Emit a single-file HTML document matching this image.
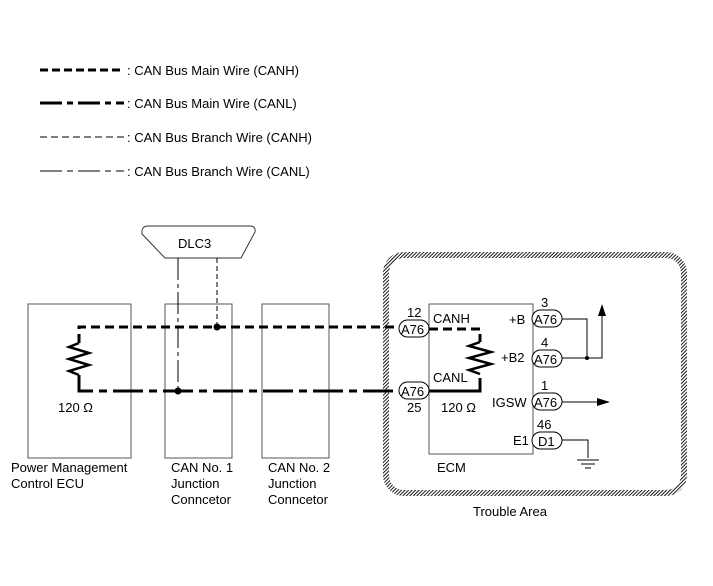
<!DOCTYPE html>
<html><head><style>
body{margin:0;background:#fff}
svg text{font-family:"Liberation Sans",Arial,sans-serif;font-size:13px;fill:#000}
</style></head><body>
<svg width="713" height="581" viewBox="0 0 713 581" xmlns="http://www.w3.org/2000/svg">
<defs>
<pattern id="h" width="2.5" height="2.5" patternUnits="userSpaceOnUse" patternTransform="rotate(45)">
<rect width="2.5" height="2.5" fill="#fff"/><line x1="0" y1="0" x2="0" y2="2.5" stroke="#000" stroke-width="1.8"/>
</pattern>
</defs>
<!-- legend -->
<g stroke="#000" fill="none">
<line x1="40" y1="70" x2="124" y2="70" stroke-width="3" stroke-dasharray="8,4"/>
<line x1="40" y1="103" x2="124" y2="103" stroke-width="3" stroke-dasharray="22,5,6,5"/>
<line x1="40" y1="137" x2="124" y2="137" stroke-width="1" stroke-dasharray="7,4"/>
<line x1="40" y1="171" x2="124" y2="171" stroke-width="1" stroke-dasharray="22,5,6,5"/>
</g>
<text x="127" y="75">: CAN Bus Main Wire (CANH)</text>
<text x="127" y="108">: CAN Bus Main Wire (CANL)</text>
<text x="127" y="142">: CAN Bus Branch Wire (CANH)</text>
<text x="127" y="176">: CAN Bus Branch Wire (CANL)</text>
<!-- trouble area -->
<rect x="386" y="255" width="298" height="238" rx="18" fill="none" stroke="url(#h)" stroke-width="6"/>
<!-- boxes -->
<g fill="none" stroke="#555" stroke-width="1">
<rect x="28" y="304" width="103" height="154"/>
<rect x="165" y="304" width="67" height="154"/>
<rect x="262" y="304" width="67" height="154"/>
<rect x="429" y="304" width="104" height="150"/>
</g>
<!-- DLC3 -->
<path d="M148 226 H250 Q256 226 255 232 L241 258 H165 L142 234 Q141 226 148 226 Z" fill="#fff" stroke="#333"/>
<text x="178" y="248">DLC3</text>
<g stroke="#000" fill="none">
<line x1="178" y1="258" x2="178" y2="391" stroke-width="1" stroke-dasharray="22,4,4,4"/>
<line x1="217" y1="258" x2="217" y2="327" stroke-width="1" stroke-dasharray="5,3"/>
<path d="M79 343 V327 H399" stroke-width="3" stroke-dasharray="9,5"/>
<path d="M79 375 V391 H399" stroke-width="3" stroke-dasharray="30,6,8,6"/>
<path d="M79 343 l-10 4 l20 6 l-20 6 l20 6 l-20 6 l10 4 v0" stroke-width="2.5"/>
<path d="M429 329 H480 V342" stroke-width="3" stroke-dasharray="9,5"/>
<path d="M429 391 H480 V378" stroke-width="3"/>
<path d="M480 342 l-11 4 l22 6 l-22 6 l22 6 l-22 6 l11 4" stroke-width="2.5"/>
<path d="M562 319 H587 V358" stroke-width="1"/>
<path d="M562 358 H602 V312" stroke-width="1"/>
<path d="M562 402 H600" stroke-width="1"/>
<path d="M562 440 H588 V458" stroke-width="1"/>
<line x1="577" y1="460" x2="599" y2="460"/>
<line x1="581" y1="464" x2="595" y2="464"/>
<line x1="585" y1="468" x2="591" y2="468"/>
</g>
<polygon points="602,304 598,316 606,316" fill="#000"/>
<polygon points="610,402 597,398 597,406" fill="#000"/>
<circle cx="217" cy="327" r="3.5"/><circle cx="178" cy="391" r="3.5"/><circle cx="587" cy="358" r="2"/>
<g fill="#fff" stroke="#000" stroke-width="1">
<rect x="399" y="320" width="30" height="17" rx="8.5"/>
<rect x="399" y="382" width="30" height="17" rx="8.5"/>
<rect x="532" y="310" width="30" height="17" rx="8.5"/>
<rect x="532" y="350" width="30" height="17" rx="8.5"/>
<rect x="532" y="393" width="30" height="17" rx="8.5"/>
<rect x="532" y="432" width="30" height="17" rx="8.5"/>
</g>
<text x="401" y="334">A76</text><text x="401" y="396">A76</text>
<text x="534" y="324">A76</text><text x="534" y="364">A76</text>
<text x="534" y="407">A76</text><text x="538" y="446">D1</text>
<text x="407" y="317">12</text><text x="407" y="412">25</text>
<text x="541" y="307">3</text><text x="541" y="347">4</text><text x="541" y="390">1</text><text x="537" y="429">46</text>
<text x="433" y="323">CANH</text><text x="433" y="382">CANL</text><text x="441" y="412">120 Ω</text>
<text x="509" y="324">+B</text><text x="501" y="362">+B2</text><text x="492" y="407">IGSW</text><text x="513" y="445">E1</text>
<text x="58" y="412">120 Ω</text>
<text x="437" y="472">ECM</text>
<text x="11" y="472">Power Management</text><text x="11" y="488">Control ECU</text>
<text x="171" y="472">CAN No. 1</text><text x="171" y="488">Junction</text><text x="171" y="504">Conncetor</text>
<text x="268" y="472">CAN No. 2</text><text x="268" y="488">Junction</text><text x="268" y="504">Conncetor</text>
<text x="473" y="516">Trouble Area</text>
</svg>
</body></html>
